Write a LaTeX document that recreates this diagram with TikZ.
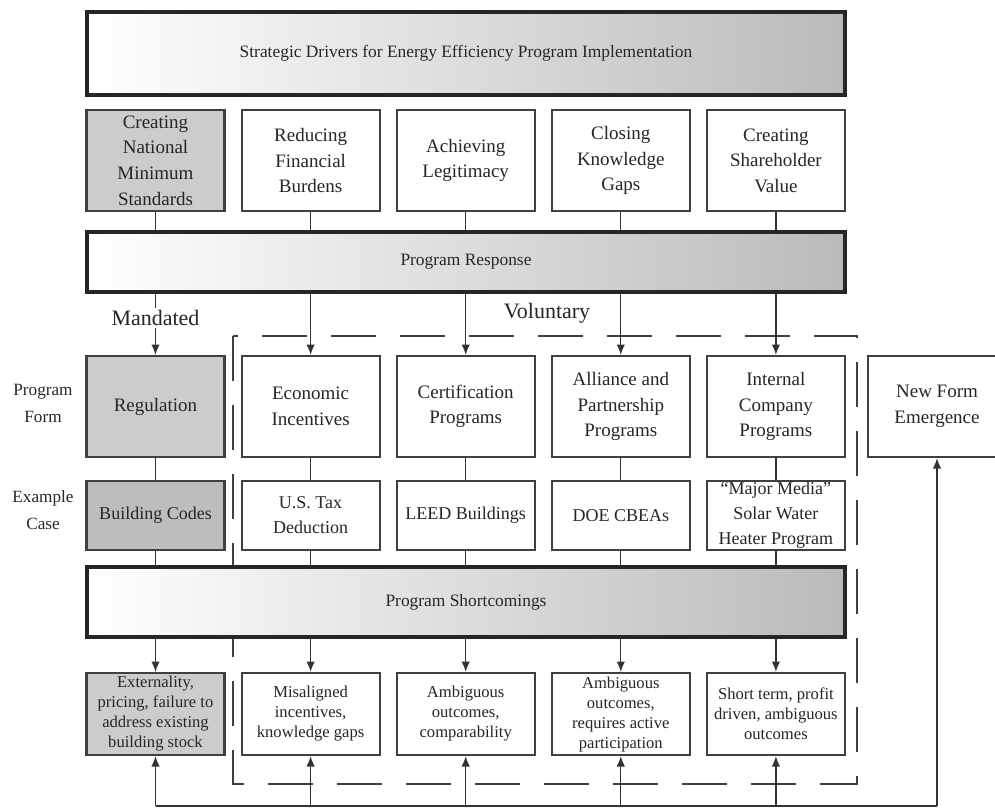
\documentclass[tikz,border=0pt]{standalone}
\usepackage{fontspec}
\setmainfont{Liberation Serif}
\usepackage{tikz}
\usetikzlibrary{arrows.meta}
\usetikzlibrary{positioning}

\begin{document}
\begin{tikzpicture}[x=0.5pt,y=-0.5pt,>={Latex[length=5.2pt,width=4.2pt]},
    every node/.style={text=black!85},
    bar/.style={draw=black!85, line width=2pt, left color=white, right color=black!27,
        minimum width=379pt, inner sep=0pt, font=\fontsize{8.7}{10}\selectfont},
    box/.style={draw=black!75, line width=1.1pt, fill=white, minimum width=69pt,
        inner sep=0pt, align=center},
    grey/.style={box, fill=black!20},
    tall/.style={minimum height=50.5pt, font=\fontsize{9.5}{12.8}\selectfont},
    case/.style={minimum height=34.5pt, font=\fontsize{9}{12.5}\selectfont},
    flaw/.style={minimum height=41pt, font=\fontsize{8.3}{10}\selectfont},
    side/.style={align=center, font=\fontsize{8.6}{13.5}\selectfont},
    kind/.style={font=\fontsize{11}{13}\selectfont, inner sep=1pt},
    link/.style={draw=black!80, line width=0.65pt},
    voldash/.style={draw=black!75, line width=1.2pt, dash pattern=on 22.5pt off 12pt}]

    \useasboundingbox (0,0) rectangle (995,808);

    % Voluntary frame (behind everything)
    \draw[voldash] (233,336) rectangle (857,784);

    % Bars
    \node [bar, minimum height=41.5pt] (drivers) at (466,53.5) {Strategic Drivers for Energy Efficiency Program Implementation};
    \node [bar, minimum height=30pt] (response) at (466,262) {Program Response};
    \node [bar, minimum height=35pt] (short) at (466,602) {Program Shortcomings};

    % Strategic drivers
    \node [grey, tall] (drv1) at (155.5,160.5) {Creating\\National\\Minimum\\Standards};
    \node [box, tall] (drv2) at (310.6,160.5) {Reducing\\Financial\\Burdens};
    \node [box, tall] (drv3) at (465.7,160.5) {Achieving\\Legitimacy};
    \node [box, tall] (drv4) at (620.8,160.5) {Closing\\Knowledge\\Gaps};
    \node [box, tall] (drv5) at (775.9,160.5) {Creating\\Shareholder\\Value};

    % Program forms
    \node [grey, tall] (form1) at (155.5,406.5) {Regulation};
    \node [box, tall] (form2) at (310.6,406.5) {Economic\\Incentives};
    \node [box, tall] (form3) at (465.7,406.5) {Certification\\Programs};
    \node [box, tall] (form4) at (620.8,406.5) {Alliance and\\Partnership\\Programs};
    \node [box, tall] (form5) at (775.9,406.5) {Internal\\Company\\Programs};
    \node [box, tall] (newform) at (937,406.5) {New Form\\Emergence};

    % Example cases
    \node [grey, case, fill=black!26] (case1) at (155.5,515.5) {Building Codes};
    \node [box, case] (case2) at (310.6,515.5) {U.S. Tax\\Deduction};
    \node [box, case] (case3) at (465.7,515.5) {LEED Buildings};
    \node [box, case] (case4) at (620.8,515.5) {DOE CBEAs};
    \node [box, case] (case5) at (775.9,515.5) {``Major Media''\\Solar Water\\Heater Program};

    % Shortcomings
    \node [grey, flaw] (flaw1) at (155.5,714) {Externality,\\pricing, failure to\\address existing\\building stock};
    \node [box, flaw] (flaw2) at (310.6,714) {Misaligned\\incentives,\\knowledge gaps};
    \node [box, flaw] (flaw3) at (465.7,714) {Ambiguous\\outcomes,\\comparability};
    \node [box, flaw] (flaw4) at (620.8,714) {Ambiguous\\outcomes,\\requires active\\participation};
    \node [box, flaw] (flaw5) at (775.9,714) {Short term, profit\\driven, ambiguous\\outcomes};

    % Row labels
    \node [side] (formlbl) at (43,403) {Program\\Form};
    \node [side] (caselbl) at (43,510) {Example\\Case};

    % Connections
    \draw [link] (drv1.south) -- (drv1.south |- response.north);
    \draw [link] (drv2.south) -- (drv2.south |- response.north);
    \draw [link] (drv3.south) -- (drv3.south |- response.north);
    \draw [link] (drv4.south) -- (drv4.south |- response.north);
    \draw [link] (drv5.south) -- (drv5.south |- response.north);

    \draw [link,->] (form1.north |- response.south) -- (form1.north);
    \draw [link,->] (form2.north |- response.south) -- (form2.north);
    \draw [link,->] (form3.north |- response.south) -- (form3.north);
    \draw [link,->] (form4.north |- response.south) -- (form4.north);
    \draw [link,->] (form5.north |- response.south) -- (form5.north);

    \node [kind, fill=white] (mandated) at (155.5,318) {Mandated};
    \node [kind] (voluntary) at (547,313) {Voluntary};

    \draw [link] (form1) -- (case1);
    \draw [link] (form2) -- (case2);
    \draw [link] (form3) -- (case3);
    \draw [link] (form4) -- (case4);
    \draw [link] (form5) -- (case5);

    \draw [link] (case1.south) -- (case1.south |- short.north);
    \draw [link] (case2.south) -- (case2.south |- short.north);
    \draw [link] (case3.south) -- (case3.south |- short.north);
    \draw [link] (case4.south) -- (case4.south |- short.north);
    \draw [link] (case5.south) -- (case5.south |- short.north);

    \draw [link,->] (flaw1.north |- short.south) -- (flaw1.north);
    \draw [link,->] (flaw2.north |- short.south) -- (flaw2.north);
    \draw [link,->] (flaw3.north |- short.south) -- (flaw3.north);
    \draw [link,->] (flaw4.north |- short.south) -- (flaw4.north);
    \draw [link,->] (flaw5.north |- short.south) -- (flaw5.north);

    % Feedback to new forms
    \coordinate (fbL) at (155.5,806);
    \coordinate (fbR) at (937,806);
    \draw [link] (fbL) -- (fbR);
    \draw [link,->] (fbR) -- (newform.south);
    \draw [link,->] (fbL) -- (flaw1.south);
    \draw [link,->] (flaw2.south |- fbL) -- (flaw2.south);
    \draw [link,->] (flaw3.south |- fbL) -- (flaw3.south);
    \draw [link,->] (flaw4.south |- fbL) -- (flaw4.south);
    \draw [link,->] (flaw5.south |- fbL) -- (flaw5.south);

\end{tikzpicture}
\end{document}
